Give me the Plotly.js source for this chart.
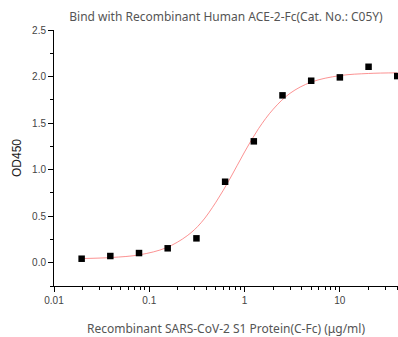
<!DOCTYPE html>
<html>
<head>
<meta charset="utf-8">
<script src="https://cdn.plot.ly/plotly-3.0.1.min.js"></script>
<style>
html,body{margin:0;padding:0;background:#fff;overflow:hidden;}
#chart{width:398px;height:337px;}
</style>
</head>
<body>
<div id="chart"></div>
<script>
// Measured points: concentration (µg/ml) vs OD450
const concentration = [0.0195, 0.039, 0.078, 0.156, 0.3125, 0.625, 1.25, 2.5, 5, 10, 20, 40];
const od450 = [0.043, 0.072, 0.104, 0.155, 0.262, 0.870, 1.304, 1.798, 1.955, 1.991, 2.105, 2.005];

// Fitted curve
const curveX = [0.0195, 0.04, 0.08, 0.15, 0.25, 0.35, 0.5, 0.7, 1.0, 1.4, 2.0, 3.0, 5.0, 10, 20, 40];
const curveY = [0.045, 0.056, 0.086, 0.16, 0.29, 0.43, 0.65, 0.90, 1.19, 1.44, 1.65, 1.82, 1.94, 2.01, 2.033, 2.04];

const xTickVals = [0.01, 0.1, 1, 10];
const xTickText = ["0.01", "0.1", "1", "10"];
const xMinorVals = [0.02,0.03,0.04,0.05,0.06,0.07,0.08,0.09,0.2,0.3,0.4,0.5,0.6,0.7,0.8,0.9,2,3,4,5,6,7,8,9,20,30,40];
const yTickVals = [0, 0.5, 1.0, 1.5, 2.0, 2.5];
const yTickText = ["0.0", "0.5", "1.0", "1.5", "2.0", "2.5"];

const titleText = "Bind with Recombinant Human ACE-2-Fc(Cat. No.: C05Y)";
const xTitle = "Recombinant SARS-CoV-2 S1 Protein(C-Fc) (μg/ml)";
const yTitle = "OD450";

const traces = [
  {
    x: curveX, y: curveY, type: 'scatter', mode: 'lines',
    line: {color: 'rgba(250,110,110,0.75)', width: 1, shape: 'spline', smoothing: 1},
    hoverinfo: 'skip', cliponaxis: false
  },
  {
    x: concentration, y: od450, type: 'scatter', mode: 'markers',
    marker: {symbol: 'square', size: 6.5, color: '#000'},
    cliponaxis: false
  }
];

const layout = {
  width: 398, height: 337,
  margin: {l: 54, r: 0, t: 30, b: 51},
  paper_bgcolor: '#fff', plot_bgcolor: '#fff',
  showlegend: false,
  title: {
    text: titleText, xref: 'paper', x: 0.5, xanchor: 'center',
    yref: 'container', y: 0.95, yanchor: 'middle',
    font: {family: 'Noto Sans', size: 12, color: '#555'}
  },
  xaxis: {
    type: 'log', range: [-2, 1.61],
    showgrid: false, zeroline: false,
    showline: true, linecolor: '#000', linewidth: 1,
    ticks: 'outside', ticklen: 5, tickwidth: 1, tickcolor: '#000',
    tickmode: 'array', tickvals: xTickVals, ticktext: xTickText,
    tickfont: {family: 'Liberation Sans, Arial', size: 10, color: '#444'},
    minor: {tickmode: 'array', tickvals: xMinorVals, ticks: 'outside', ticklen: 3, tickcolor: '#000', showgrid: false},
    title: {text: xTitle, standoff: 21, font: {family: 'Noto Sans', size: 12, color: '#555'}},
    automargin: false
  },
  yaxis: {
    range: [-0.25, 2.5],
    showgrid: false, zeroline: false,
    showline: true, linecolor: '#000', linewidth: 1,
    ticks: 'outside', ticklen: 5, tickwidth: 1, tickcolor: '#000',
    tickmode: 'array', tickvals: yTickVals, ticktext: yTickText,
    tickfont: {family: 'Liberation Sans, Arial', size: 10, color: '#444'},
    minor: {dtick: 0.25, ticks: 'outside', ticklen: 3, tickcolor: '#000', showgrid: false},
    title: {text: yTitle, standoff: 7, font: {family: 'Liberation Sans, Arial', size: 12, color: '#222'}},
    automargin: false
  }
};

Plotly.newPlot('chart', traces, layout, {displayModeBar: false, staticPlot: true});
</script>
</body>
</html>
